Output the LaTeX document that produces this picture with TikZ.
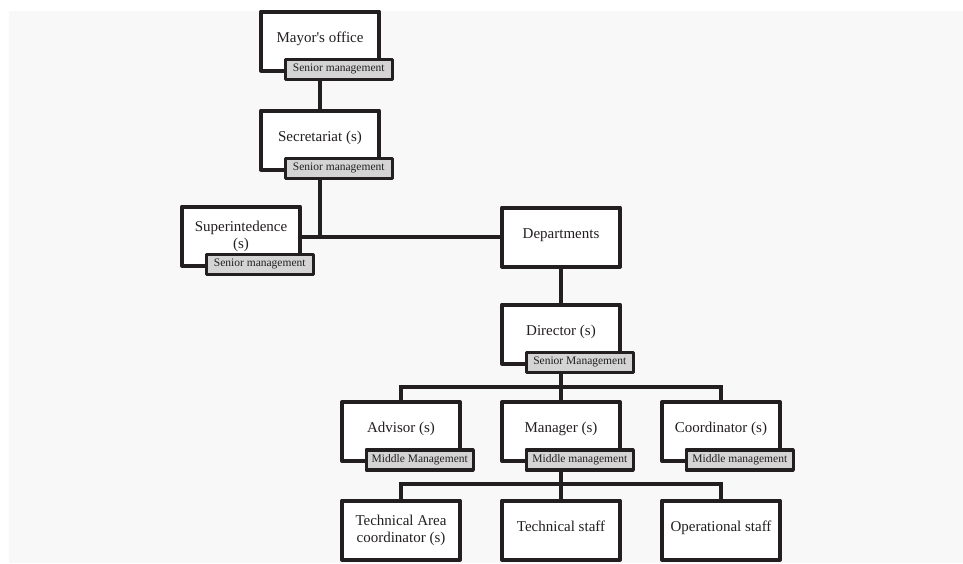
\documentclass[tikz,border=0pt]{standalone}
\usepackage{fontspec}
\setmainfont{Liberation Serif}
\usetikzlibrary{backgrounds}
\definecolor{ink}{HTML}{231F20}
\definecolor{tagfill}{HTML}{D4D4D4}
\definecolor{paper}{HTML}{F8F8F8}
\tikzset{
  unit/.style={draw=ink,line width=4pt,line join=round,fill=white,text=ink,
    minimum width=118pt,minimum height=59pt,inner sep=2pt,align=center,
    font=\fontsize{15}{17}\selectfont},
  oneline/.style={text height=11pt,text depth=9pt},
  tag/.style={draw=ink,line width=3.5pt,line join=round,fill=tagfill,text=ink,
    minimum width=107pt,minimum height=20pt,inner sep=0pt,
    font=\fontsize{11.5}{12}\selectfont,
    anchor=south east,xshift=13pt,yshift=-8.5pt},
  link/.style={draw=ink,line width=4pt},
}
\begin{document}
\begin{tikzpicture}[x=1pt,y=-1pt]
  \useasboundingbox (0,0) rectangle (963,563);

  % top of the chart
  \node[unit,oneline] (mayor) at (320,41) {Mayor\textquotesingle s office};
  \node[tag] (mayortag) at (mayor.south east) {Senior management};
  \node[unit,oneline] (secr) at (320,140) {Secretariat (s)};
  \node[tag] (secrtag) at (secr.south east) {Senior management};
  \node[unit] (super) at (241,236) {Superintedence\\(s)};
  \node[tag] (supertag) at (super.south east) {Senior management};
  \node[unit,oneline] (dept) at (561,237) {Departments};

  % directors
  \node[unit,oneline] (dir) at (561,334) {Director (s)};
  \node[tag] (dirtag) at (dir.south east) {Senior Management};

  % middle management
  \node[unit,oneline] (adv) at (401,431.5) {Advisor (s)};
  \node[tag] (advtag) at (adv.south east) {Middle Management};
  \node[unit,oneline] (mgr) at (561,431.5) {Manager (s)};
  \node[tag] (mgrtag) at (mgr.south east) {Middle management};
  \node[unit,oneline] (coord) at (721,431.5) {Coordinator (s)};
  \node[tag] (coordtag) at (coord.south east) {Middle management};

  % staff
  \node[unit] (tarea) at (401,530) {Technical Area\\coordinator (s)};
  \node[unit,oneline] (tstaff) at (561,530) {Technical staff};
  \node[unit,oneline] (oper) at (721,530) {Operational staff};

  \coordinate (busA) at (561,387);%bus under director
  \coordinate (busB) at (561,484);%bus under manager

  \begin{scope}[on background layer]
    \fill[paper] (9,11) rectangle (963,563);
    \draw[link] (mayor.south) -- (secr.north);
    \draw[link] (secr.south) -- (secr.south |- dept.west);
    \draw[link] (super.east |- dept.west) -- (dept.west);
    \draw[link] (dept.south) -- (dir.north);
    \draw[link] (dir.south) -- (mgr.north);
    \draw[link] (adv.north) |- (busA) -| (coord.north);
    \draw[link] (mgr.south) -- (tstaff.north);
    \draw[link] (tarea.north) |- (busB) -| (oper.north);
  \end{scope}
\end{tikzpicture}
\end{document}
